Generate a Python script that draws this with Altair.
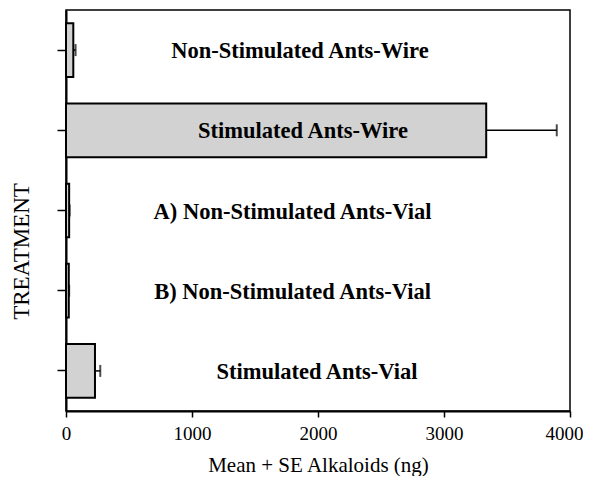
import altair as alt
import pandas as pd

categories = [
    "Non-Stimulated Ants-Wire",
    "Stimulated Ants-Wire",
    "A) Non-Stimulated Ants-Vial",
    "B) Non-Stimulated Ants-Vial",
    "Stimulated Ants-Vial",
]
means = [58, 3335, 25, 22, 230]
se = [18, 560, 4, 3, 42]
label_at = [1857, 1881, 1798, 1798, 1992]

df = pd.DataFrame({
    "cat": categories,
    "mean": means,
    "hi": [m + s for m, s in zip(means, se)],
    "lab": label_at,
})

FONT = "Liberation Serif"

y_enc = alt.Y(
    "cat:N",
    sort=categories,
    scale=alt.Scale(paddingInner=0.33, paddingOuter=0.165),
    axis=alt.Axis(
        title="TREATMENT",
        labels=False,
        ticks=True,
        tickSize=9,
        tickWidth=1.5,
        tickColor="black",
        domainColor="black",
        domainWidth=2,
        titleFont=FONT,
        titleFontSize=23,
        titleFontWeight="normal",
        titleColor="black",
        titleAngle=-90,
        titleX=-45,
        titleY=241,
        titleAlign="center",
        titleBaseline="middle",
    ),
)

x_scale = alt.Scale(domain=[0, 4000], nice=False, zero=True)
x_axis = alt.Axis(
    title="Mean + SE Alkaloids (ng)",
    values=[0, 1000, 2000, 3000, 4000],
    format="d",
    grid=False,
    tickSize=6,
    tickWidth=1.5,
    tickColor="black",
    domainColor="black",
    domainWidth=2,
    labelFont=FONT,
    labelFontSize=19,
    labelColor="black",
    labelPadding=7,
    labelFlush=False,
    labelOffset=alt.condition("datum.value == 4000", alt.value(-6), alt.value(0)),
    titleFont=FONT,
    titleFontSize=21,
    titleFontWeight="normal",
    titleColor="black",
    titleY=64,
    titleBaseline="bottom",
)

base = alt.Chart(df)

err = base.mark_rule(color="black", strokeWidth=1.5).encode(
    x=alt.X("mean:Q", scale=x_scale, axis=x_axis),
    x2="hi:Q",
    y=y_enc,
)
cap = base.mark_tick(color="black", thickness=2, size=12, orient="vertical").encode(
    x=alt.X("hi:Q", scale=x_scale),
    y=alt.Y("cat:N", sort=categories),
)
bars = base.mark_bar(fill="#d2d2d2", stroke="black", strokeWidth=2).encode(
    x=alt.X("mean:Q", scale=x_scale, axis=x_axis),
    y=y_enc,
)
labels = base.mark_text(
    font=FONT, fontSize=22.5, fontWeight="bold", color="black",
    align="center", baseline="middle", dy=1,
).encode(
    x=alt.X("lab:Q", scale=x_scale),
    y=alt.Y("cat:N", sort=categories),
    text="cat:N",
)

chart = (
    alt.layer(err, cap, bars, labels)
    .properties(
        width=504,
        height=401,
        autosize=alt.AutoSizeParams(type="none"),
        padding={"left": 58, "top": 2, "right": 13, "bottom": 65},
        background="white",
    )
    .configure_view(stroke="black", strokeWidth=1.5)
)

chart.save("out.html", embed_options={"renderer": "svg", "actions": False})
